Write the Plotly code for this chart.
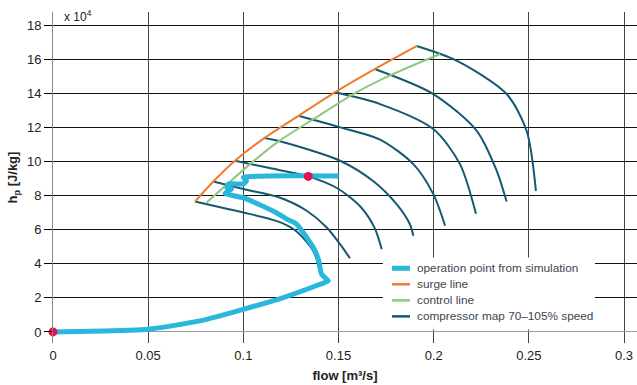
import plotly.graph_objects as go

# ---- data (flow in m^3/s, head in 1e4 J/kg) ----
op_flow = [0, 0.05, 0.0772, 0.1, 0.121, 0.1403, 0.1446, 0.1411, 0.1394, 0.1367, 0.128,
           0.1228, 0.1166, 0.1009, 0.0904, 0.0939, 0.0915, 0.0921, 0.1, 0.1017, 0.1, 0.15]
op_head = [0, 0.16, 0.65, 1.33, 2.02, 2.8, 3.0, 3.39, 4.28, 4.96, 6.34,
           6.63, 7.05, 7.85, 8.15, 8.4, 8.45, 8.69, 8.7, 8.88, 9.08, 9.16]

surge_flow = [0.0746, 0.0842, 0.0956, 0.111, 0.129, 0.148, 0.169, 0.191]
surge_head = [7.66, 8.84, 10.06, 11.39, 12.7, 14.08, 15.45, 16.8]

control_flow = [0.0807, 0.1035, 0.119, 0.1367, 0.1578, 0.1788, 0.2033]
control_head = [7.6, 9.86, 11.24, 12.5, 13.98, 15.16, 16.33]

map_flow = {
    "70%": [0.0746, 0.093, 0.1, 0.1192, 0.128, 0.1367, 0.1405],
    "75%": [0.0842, 0.1, 0.119, 0.1333, 0.1438, 0.1508, 0.156],
    "80%": [0.0956, 0.115, 0.1341, 0.150, 0.162, 0.169, 0.1727],
    "85%": [0.111, 0.1192, 0.1508, 0.168, 0.1805, 0.1875, 0.1893],
    "90%": [0.129, 0.15, 0.1718, 0.1893, 0.1998, 0.206],
    "95%": [0.148, 0.1718, 0.1998, 0.2138, 0.2222],
    "100%": [0.169, 0.1998, 0.2226, 0.2331, 0.2383],
    "105%": [0.191, 0.212, 0.2383, 0.2488, 0.2537],
}
map_head = {
    "70%": [7.66, 7.2, 7.02, 6.45, 5.9, 4.76, 3.5],
    "75%": [8.84, 8.4, 7.9, 7.12, 6.14, 5.16, 4.33],
    "80%": [10.06, 9.6, 9.14, 8.4, 7.3, 6.1, 4.86],
    "85%": [11.39, 11.2, 10.06, 8.88, 7.51, 6.33, 5.65],
    "90%": [12.7, 12.05, 11.3, 9.86, 8.1, 6.24],
    "95%": [14.08, 13.39, 11.92, 9.86, 6.94],
    "100%": [15.45, 13.98, 11.82, 9.47, 7.66],
    "105%": [16.8, 15.94, 13.98, 11.82, 8.29],
}

point_flow = [0, 0.1341]
point_head = [0, 9.14]

x_ticks = [0, 0.05, 0.1, 0.15, 0.2, 0.25, 0.3]
x_tick_text = ["0", "0.05", "0.1", "0.15", "0.2", "0.25", "0.3"]
y_ticks = [0, 2, 4, 6, 8, 10, 12, 14, 16, 18]

legend_labels = ["operation point from simulation", "surge line", "control line",
                 "compressor map 70\u2013105% speed"]

BLUE = "#2ab7dc"
ORANGE = "#f07b2c"
GREEN = "#8dc87c"
TEAL = "#135a70"
RED = "#e3124f"
legend_colors = [BLUE, ORANGE, GREEN, TEAL]
legend_widths = [5, 2.5, 2.5, 2.5]

fig = go.Figure()

for k in map_flow:
    fig.add_trace(go.Scatter(
        x=map_flow[k], y=map_head[k], mode="lines",
        line=dict(color=TEAL, width=2, shape="spline", smoothing=0.8),
        name=legend_labels[3] + " (" + k + ")", showlegend=False))

fig.add_trace(go.Scatter(x=surge_flow, y=surge_head, mode="lines",
                         line=dict(color=ORANGE, width=2, shape="spline", smoothing=0.6),
                         name=legend_labels[1], showlegend=False))
fig.add_trace(go.Scatter(x=control_flow, y=control_head, mode="lines",
                         line=dict(color=GREEN, width=2, shape="spline", smoothing=0.6),
                         name=legend_labels[2], showlegend=False))
fig.add_trace(go.Scatter(x=op_flow, y=op_head, mode="lines",
                         line=dict(color=BLUE, width=5, shape="spline", smoothing=0.5),
                         name=legend_labels[0], showlegend=False))
fig.add_trace(go.Scatter(x=point_flow, y=point_head, mode="markers",
                         marker=dict(color=RED, size=9), showlegend=False,
                         cliponaxis=False))

# ---- compact legend box (paper coordinates) ----
shapes = [dict(type="rect", xref="paper", yref="paper", x0=0.565, x1=0.928,
               y0=0.041, y1=0.258, fillcolor="white", line=dict(width=0), layer="above")]
annotations = []
row_y = [0.2257, 0.1773, 0.1289, 0.0805]
for lab, col, w, yy in zip(legend_labels, legend_colors, legend_widths, row_y):
    shapes.append(dict(type="line", xref="paper", yref="paper", x0=0.5805, x1=0.6113,
                       y0=yy, y1=yy, line=dict(color=col, width=w), layer="above"))
    annotations.append(dict(text=lab, xref="paper", yref="paper", x=0.6199, y=yy,
                            xanchor="left", yanchor="middle", showarrow=False,
                            font=dict(size=11.8, color="#3c4650")))

annotations.append(dict(text="x 10<sup>4</sup>", xref="paper", yref="paper",
                        x=0.015, y=1.0, xanchor="left", yanchor="bottom",
                        showarrow=False, font=dict(size=12, color="#222"),
                        yshift=-14))

fig.update_layout(
    width=637, height=385,
    margin=dict(l=53, r=0, t=12, b=42),
    plot_bgcolor="white", paper_bgcolor="white",
    font=dict(family="Liberation Sans, Arial, sans-serif", size=13, color="#222"),
    showlegend=False,
    shapes=shapes,
    annotations=annotations,
)
fig.update_xaxes(
    range=[0, 0.3068], tickvals=x_ticks, ticktext=x_tick_text,
    showgrid=True, gridcolor="#444", gridwidth=1.2,
    zeroline=True, zerolinecolor="#888", zerolinewidth=1,
    showline=False, ticks="", ticklabelstandoff=3,
    title=dict(text="<b>flow [m\u00b3/s]</b>", font=dict(size=13, color="#222"), standoff=8),
)
fig.update_yaxes(
    range=[-0.65, 18.8], tickvals=y_ticks,
    showgrid=True, gridcolor="#111", gridwidth=1.2,
    zeroline=True, zerolinecolor="#999", zerolinewidth=1,
    showline=True, linecolor="#888", linewidth=1,
    ticks="outside", ticklen=8, tickcolor="#000",
    title=dict(text="<b>h<sub>p</sub> [J/kg]</b>", font=dict(size=13, color="#222"), standoff=6),
)

fig.write_html("out.html")
